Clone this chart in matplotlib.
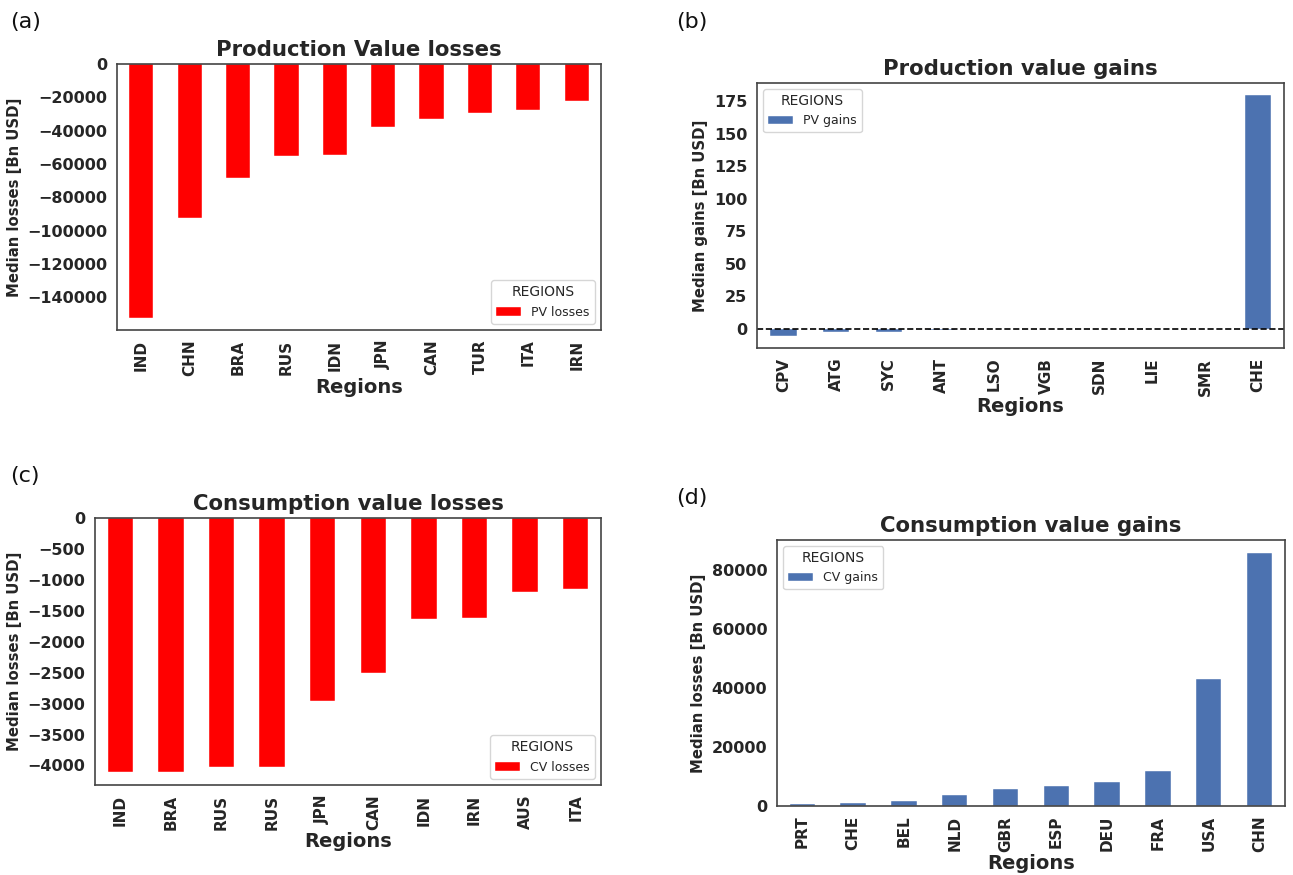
import matplotlib
matplotlib.use("Agg")
import matplotlib.pyplot as plt
import seaborn as sns

sns.set_style("white")
plt.rcParams['font.family'] = ['DejaVu Sans']

# (a) production value losses
pv_loss_regions = ["IND", "CHN", "BRA", "RUS", "IDN", "JPN", "CAN", "TUR", "ITA", "IRN"]
pv_losses = [-152400, -92100, -68500, -55300, -54300, -37700, -33000, -29600, -27600, -22400]

# (b) production value gains
pv_gain_regions = ["CPV", "ATG", "SYC", "ANT", "LSO", "VGB", "SDN", "LIE", "SMR", "CHE"]
pv_gains = [-5.4, -2.6, -2.5, -0.8, -0.1, 0.0, 0.0, 0.0, 0.1, 180]

# (c) consumption value losses
cv_loss_regions = ["IND", "BRA", "RUS", "RUS", "JPN", "CAN", "IDN", "IRN", "AUS", "ITA"]
cv_losses = [-4110, -4100, -4030, -4030, -2960, -2510, -1630, -1610, -1190, -1150]

# (d) consumption value gains
cv_gain_regions = ["PRT", "CHE", "BEL", "NLD", "GBR", "ESP", "DEU", "FRA", "USA", "CHN"]
cv_gains = [700, 1100, 1800, 3600, 5700, 6800, 8100, 11700, 43100, 86000]

red = "red"
blue = "#4C72B0"

fig = plt.figure(figsize=(12.93, 8.75), dpi=100)

panels = [
    ([0.0905, 0.6229, 0.3743, 0.3040], pv_loss_regions, pv_losses, red, "PV losses",
     "Production Value losses", "Median losses [Bn USD]", "lower right"),
    ([0.5855, 0.6023, 0.4076, 0.3029], pv_gain_regions, pv_gains, blue, "PV gains",
     "Production value gains", "Median gains [Bn USD]", "upper left"),
    ([0.0735, 0.1029, 0.3913, 0.3046], cv_loss_regions, cv_losses, red, "CV losses",
     "Consumption value losses", "Median losses [Bn USD]", "lower right"),
    ([0.6009, 0.0789, 0.3929, 0.3040], cv_gain_regions, cv_gains, blue, "CV gains",
     "Consumption value gains", "Median losses [Bn USD]", "upper left"),
]

axes = []
for rect, regions, vals, color, lab, title, ylab, loc in panels:
    ax = fig.add_axes(rect)
    x = list(range(len(vals)))
    ax.bar(x, vals, width=0.5, color=color, label=lab, edgecolor="white", linewidth=0.3)
    ax.set_xlim(-0.5, len(vals) - 0.5)
    ax.set_xticks(x)
    ax.set_xticklabels(regions, rotation=90, fontweight="bold", fontsize=11)
    ax.set_title(title, fontsize=15.3, fontweight="bold")
    ax.set_xlabel("Regions", fontsize=14, fontweight="bold", labelpad=1)
    ax.set_ylabel(ylab, fontsize=10.7, fontweight="bold")
    ax.legend(title="REGIONS", loc=loc, fontsize=9, title_fontsize=10)
    for s in ax.spines.values():
        s.set_color("#444444")
        s.set_linewidth(1.2)
    axes.append(ax)

axes[0].set_ylim(-159500, 0)
axes[1].axhline(0, color="black", linestyle="--", linewidth=1.2)

for ax in axes:
    for t in ax.get_yticklabels():
        t.set_fontweight("bold")
        t.set_fontsize(11.5)

fig.text(0.008, 0.975, "(a)", fontsize=16, va="center", color="#111111")
fig.text(0.523, 0.975, "(b)", fontsize=16, va="center", color="#111111")
fig.text(0.008, 0.456, "(c)", fontsize=16, va="center", color="#111111")
fig.text(0.523, 0.431, "(d)", fontsize=16, va="center", color="#111111")

fig.savefig("out.png", dpi=100)
